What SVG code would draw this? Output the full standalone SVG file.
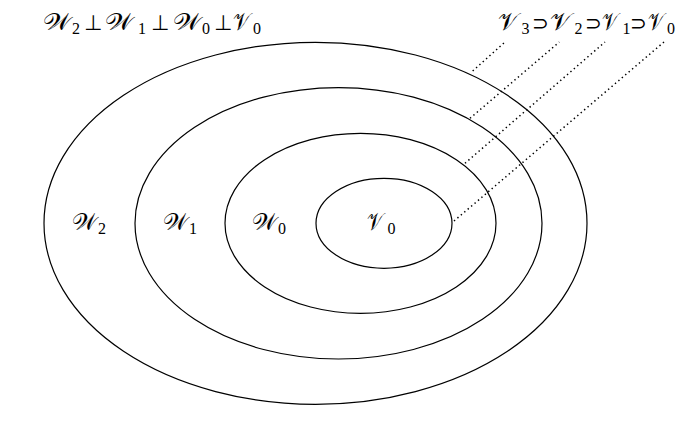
<svg xmlns="http://www.w3.org/2000/svg" width="698" height="429" viewBox="0 0 698 429">
<style>
.ell{fill:none;stroke:#000;stroke-width:1.2}
.dot{fill:none;stroke:#000;stroke-width:1.5;stroke-dasharray:1.4 3.1}
.m{font-family:"DejaVu Serif","DejaVu Sans",serif;font-size:24px;fill:#000}
.s{font-family:"Liberation Serif",serif;font-size:16px}
.op{font-family:"DejaVu Sans",sans-serif;font-size:21px}
.op2{font-family:"DejaVu Sans",sans-serif;font-size:20px}
</style>
<rect width="698" height="429" fill="#fff"/>
<g id="W2">
<ellipse class="ell" cx="315.5" cy="223.3" rx="271.5" ry="181"/>
<text class="m" y="230"><tspan x="72" textLength="25" lengthAdjust="spacingAndGlyphs">𝒲</tspan><tspan class="s" x="98" y="234">2</tspan></text>
</g>
<g id="W1">
<ellipse class="ell" cx="338.5" cy="223.3" rx="203.5" ry="135.7"/>
<text class="m" y="230"><tspan x="163" textLength="25" lengthAdjust="spacingAndGlyphs">𝒲</tspan><tspan class="s" x="189" y="234">1</tspan></text>
</g>
<g id="W0">
<ellipse class="ell" cx="360.5" cy="223.3" rx="135.5" ry="90"/>
<text class="m" y="230"><tspan x="252" textLength="25" lengthAdjust="spacingAndGlyphs">𝒲</tspan><tspan class="s" x="278" y="234">0</tspan></text>
</g>
<g id="V0">
<ellipse class="ell" cx="384" cy="223.3" rx="68" ry="45"/>
<text class="m" y="230"><tspan x="367" textLength="16" lengthAdjust="spacingAndGlyphs">𝒱</tspan><tspan class="s" x="387.5" y="234">0</tspan></text>
</g>
<g id="label-orth">
<text class="m" y="30"><tspan x="43" textLength="28" lengthAdjust="spacingAndGlyphs">𝒲</tspan><tspan class="s" x="72" y="34">2</tspan><tspan class="op" x="84" y="30">⊥</tspan><tspan x="105" y="30" textLength="28" lengthAdjust="spacingAndGlyphs">𝒲</tspan><tspan class="s" x="138" y="34">1</tspan><tspan class="op" x="151" y="30">⊥</tspan><tspan x="173" y="30" textLength="28" lengthAdjust="spacingAndGlyphs">𝒲</tspan><tspan class="s" x="202" y="34">0</tspan><tspan class="op" x="214" y="30">⊥</tspan><tspan x="233" y="30" textLength="17" lengthAdjust="spacingAndGlyphs">𝒱</tspan><tspan class="s" x="253" y="34">0</tspan></text>
</g>
<g id="label-nested">
<text class="m" y="30"><tspan x="498" textLength="20" lengthAdjust="spacingAndGlyphs">𝒱</tspan><tspan class="s" x="521.5" y="34">3</tspan><tspan class="op2" x="532" y="30">⊃</tspan><tspan x="550" y="30" textLength="21" lengthAdjust="spacingAndGlyphs">𝒱</tspan><tspan class="s" x="574.5" y="34">2</tspan><tspan class="op2" x="585" y="30">⊃</tspan><tspan x="602" y="30" textLength="16" lengthAdjust="spacingAndGlyphs">𝒱</tspan><tspan class="s" x="622.5" y="34">1</tspan><tspan class="op2" x="630" y="30">⊃</tspan><tspan x="647.5" y="30" textLength="16" lengthAdjust="spacingAndGlyphs">𝒱</tspan><tspan class="s" x="667" y="34">0</tspan></text>
</g>
<g id="connectors">
<line class="dot" x1="472.7" y1="71" x2="505" y2="42"/>
<line class="dot" x1="470" y1="118.3" x2="559.3" y2="42"/>
<line class="dot" x1="465" y1="163.3" x2="605" y2="42"/>
<line class="dot" x1="454" y1="221" x2="664" y2="42"/>
</g>
</svg>
